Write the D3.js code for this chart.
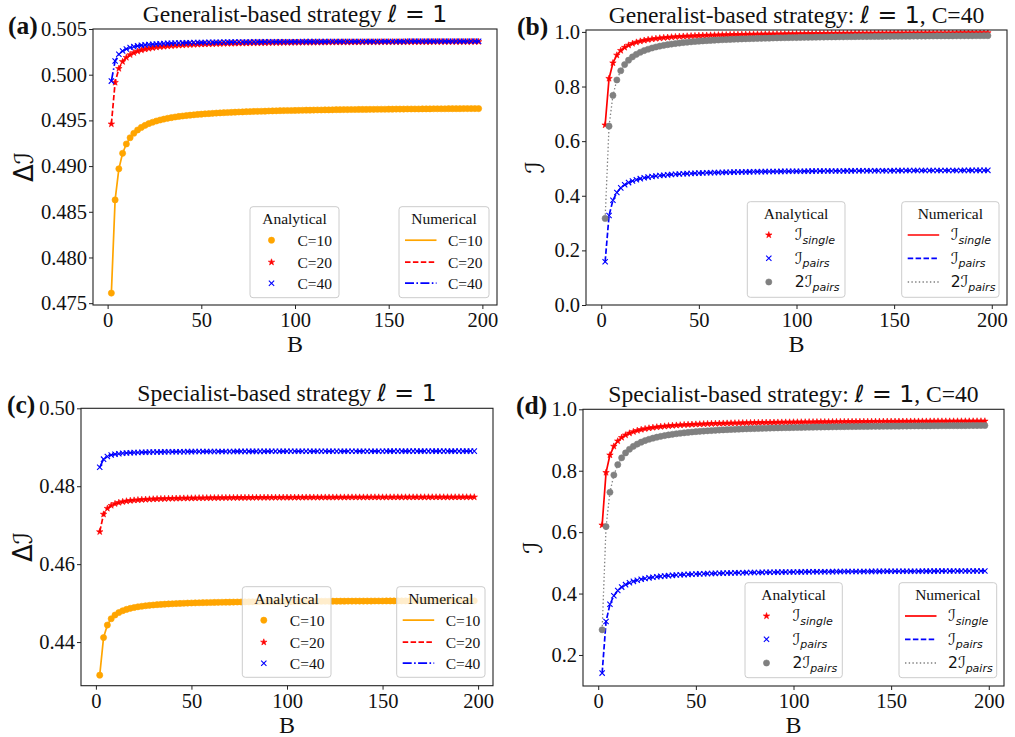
<!DOCTYPE html>
<html>
<head>
<meta charset="utf-8">
<script src="https://cdn.jsdelivr.net/npm/d3@7"></script>
<style>
  body { margin: 0; background: #fff; }
  svg { display: block; }
</style>
</head>
<body>
<svg id="fig" width="1015" height="737"></svg>
<script>
// Block size B: 2, 4, ..., 198
const B = d3.range(2, 200, 2);

// (a) Generalist-based strategy, ΔI for three values of C
const genDeltaC10 = [
  0.4761,0.4863,0.4897,0.4914,0.49242,0.4931,0.49359,0.49395,0.49423,0.49446,
  0.49465,0.4948,0.49493,0.49504,0.49514,0.49523,0.4953,0.49537,0.49543,0.49548,
  0.49553,0.49557,0.49561,0.49565,0.49568,0.49572,0.49574,0.49577,0.4958,0.49582,
  0.49584,0.49586,0.49588,0.4959,0.49592,0.49593,0.49595,0.49596,0.49598,0.49599,
  0.496,0.49601,0.49603,0.49604,0.49605,0.49606,0.49607,0.49608,0.49608,0.49609,
  0.4961,0.49611,0.49612,0.49612,0.49613,0.49614,0.49614,0.49615,0.49615,0.49616,
  0.49617,0.49617,0.49618,0.49618,0.49619,0.49619,0.4962,0.4962,0.4962,0.49621,
  0.49621,0.49622,0.49622,0.49622,0.49623,0.49623,0.49624,0.49624,0.49624,0.49625,
  0.49625,0.49625,0.49625,0.49626,0.49626,0.49626,0.49627,0.49627,0.49627,0.49627,
  0.49628,0.49628,0.49628,0.49628,0.49629,0.49629,0.49629,0.49629,0.49629
];
const genDeltaC20 = [
  0.4946,0.49915,0.50067,0.50143,0.50188,0.50218,0.5024,0.50256,0.50269,0.50279,
  0.50287,0.50294,0.503,0.50305,0.50309,0.50313,0.50316,0.50319,0.50322,0.50324,
  0.50327,0.50329,0.5033,0.50332,0.50334,0.50335,0.50336,0.50337,0.50339,0.5034,
  0.50341,0.50342,0.50342,0.50343,0.50344,0.50345,0.50345,0.50346,0.50347,0.50347,
  0.50348,0.50348,0.50349,0.50349,0.5035,0.5035,0.50351,0.50351,0.50351,0.50352,
  0.50352,0.50353,0.50353,0.50353,0.50353,0.50354,0.50354,0.50354,0.50355,0.50355,
  0.50355,0.50355,0.50356,0.50356,0.50356,0.50356,0.50356,0.50357,0.50357,0.50357,
  0.50357,0.50357,0.50358,0.50358,0.50358,0.50358,0.50358,0.50358,0.50358,0.50359,
  0.50359,0.50359,0.50359,0.50359,0.50359,0.50359,0.5036,0.5036,0.5036,0.5036,
  0.5036,0.5036,0.5036,0.5036,0.5036,0.5036,0.50361,0.50361,0.50361
];
const genDeltaC40 = [
  0.4993,0.5015,0.50223,0.5026,0.50282,0.50297,0.50307,0.50315,0.50321,0.50326,
  0.5033,0.50333,0.50336,0.50339,0.50341,0.50343,0.50344,0.50346,0.50347,0.50348,
  0.50349,0.5035,0.50351,0.50352,0.50352,0.50353,0.50354,0.50354,0.50355,0.50355,
  0.50356,0.50356,0.50357,0.50357,0.50357,0.50358,0.50358,0.50358,0.50359,0.50359,
  0.50359,0.5036,0.5036,0.5036,0.5036,0.5036,0.50361,0.50361,0.50361,0.50361,
  0.50361,0.50362,0.50362,0.50362,0.50362,0.50362,0.50362,0.50362,0.50363,0.50363,
  0.50363,0.50363,0.50363,0.50363,0.50363,0.50363,0.50363,0.50364,0.50364,0.50364,
  0.50364,0.50364,0.50364,0.50364,0.50364,0.50364,0.50364,0.50364,0.50364,0.50365,
  0.50365,0.50365,0.50365,0.50365,0.50365,0.50365,0.50365,0.50365,0.50365,0.50365,
  0.50365,0.50365,0.50365,0.50365,0.50365,0.50365,0.50365,0.50365,0.50365
];

// (b) Generalist-based strategy, C=40: single and pair information
const genSingle = [
  0.659,0.8295,0.8863,0.9148,0.9318,0.9432,0.9513,0.9574,0.9621,0.9659,
  0.969,0.9716,0.9738,0.9756,0.9773,0.9787,0.9799,0.9811,0.9821,0.983,
  0.9838,0.9845,0.9852,0.9858,0.9864,0.9869,0.9874,0.9878,0.9882,0.9886,
  0.989,0.9893,0.9897,0.99,0.9903,0.9905,0.9908,0.991,0.9913,0.9915,
  0.9917,0.9919,0.9921,0.9922,0.9924,0.9926,0.9927,0.9929,0.993,0.9932,
  0.9933,0.9934,0.9936,0.9937,0.9938,0.9939,0.994,0.9941,0.9942,0.9943,
  0.9944,0.9945,0.9946,0.9947,0.9948,0.9948,0.9949,0.995,0.9951,0.9951,
  0.9952,0.9953,0.9953,0.9954,0.9955,0.9955,0.9956,0.9956,0.9957,0.9957,
  0.9958,0.9958,0.9959,0.9959,0.996,0.996,0.9961,0.9961,0.9962,0.9962,
  0.9963,0.9963,0.9963,0.9964,0.9964,0.9964,0.9965,0.9965,0.9966
];
const genPairs = [
  0.1585,0.3275,0.3838,0.412,0.4289,0.4402,0.4482,0.4543,0.4589,0.4627,
  0.4658,0.4683,0.4705,0.4724,0.474,0.4754,0.4766,0.4777,0.4787,0.4796,
  0.4804,0.4811,0.4818,0.4824,0.483,0.4835,0.484,0.4844,0.4848,0.4852,
  0.4856,0.4859,0.4863,0.4866,0.4868,0.4871,0.4874,0.4876,0.4878,0.4881,
  0.4883,0.4885,0.4886,0.4888,0.489,0.4892,0.4893,0.4895,0.4896,0.4897,
  0.4899,0.49,0.4901,0.4902,0.4904,0.4905,0.4906,0.4907,0.4908,0.4909,
  0.491,0.491,0.4911,0.4912,0.4913,0.4914,0.4915,0.4915,0.4916,0.4917,
  0.4917,0.4918,0.4919,0.4919,0.492,0.4921,0.4921,0.4922,0.4922,0.4923,
  0.4923,0.4924,0.4924,0.4925,0.4925,0.4926,0.4926,0.4927,0.4927,0.4927,
  0.4928,0.4928,0.4929,0.4929,0.4929,0.493,0.493,0.4931,0.4931
];

// (c) Specialist-based strategy, ΔI for three values of C
const specDeltaC10 = [
  0.4315,0.44115,0.44437,0.44598,0.44694,0.44758,0.44804,0.44839,0.44866,0.44887,
  0.44905,0.44919,0.44932,0.44942,0.44951,0.44959,0.44967,0.44973,0.44978,0.44983,
  0.44988,0.44992,0.44996,0.45,0.45003,0.45006,0.45009,0.45011,0.45013,0.45016,
  0.45018,0.4502,0.45022,0.45023,0.45025,0.45026,0.45028,0.45029,0.4503,0.45032,
  0.45033,0.45034,0.45035,0.45036,0.45037,0.45038,0.45039,0.4504,0.45041,0.45041,
  0.45042,0.45043,0.45044,0.45044,0.45045,0.45046,0.45046,0.45047,0.45047,0.45048,
  0.45048,0.45049,0.45049,0.4505,0.4505,0.45051,0.45051,0.45052,0.45052,0.45052,
  0.45053,0.45053,0.45054,0.45054,0.45054,0.45055,0.45055,0.45055,0.45056,0.45056,
  0.45056,0.45056,0.45057,0.45057,0.45057,0.45058,0.45058,0.45058,0.45058,0.45059,
  0.45059,0.45059,0.45059,0.4506,0.4506,0.4506,0.4506,0.4506,0.4506
];
const specDeltaC20 = [
  0.4683,0.4728,0.4743,0.47505,0.4755,0.4758,0.47601,0.47618,0.4763,0.4764,
  0.47648,0.47655,0.47661,0.47666,0.4767,0.47674,0.47677,0.4768,0.47683,0.47685,
  0.47687,0.47689,0.47691,0.47693,0.47694,0.47695,0.47697,0.47698,0.47699,0.477,
  0.47701,0.47702,0.47703,0.47704,0.47704,0.47705,0.47706,0.47706,0.47707,0.47708,
  0.47708,0.47709,0.47709,0.4771,0.4771,0.4771,0.47711,0.47711,0.47712,0.47712,
  0.47712,0.47713,0.47713,0.47713,0.47714,0.47714,0.47714,0.47714,0.47715,0.47715,
  0.47715,0.47715,0.47716,0.47716,0.47716,0.47716,0.47717,0.47717,0.47717,0.47717,
  0.47717,0.47717,0.47718,0.47718,0.47718,0.47718,0.47718,0.47718,0.47719,0.47719,
  0.47719,0.47719,0.47719,0.47719,0.47719,0.4772,0.4772,0.4772,0.4772,0.4772,
  0.4772,0.4772,0.4772,0.4772,0.4772,0.47721,0.47721,0.47721,0.47721
];
const specDeltaC40 = [
  0.48485,0.48695,0.48765,0.488,0.48821,0.48835,0.48845,0.48853,0.48858,0.48863,
  0.48867,0.4887,0.48873,0.48875,0.48877,0.48879,0.4888,0.48882,0.48883,0.48884,
  0.48885,0.48886,0.48887,0.48888,0.48888,0.48889,0.48889,0.4889,0.48891,0.48891,
  0.48891,0.48892,0.48892,0.48893,0.48893,0.48893,0.48894,0.48894,0.48894,0.48895,
  0.48895,0.48895,0.48895,0.48895,0.48896,0.48896,0.48896,0.48896,0.48896,0.48897,
  0.48897,0.48897,0.48897,0.48897,0.48897,0.48898,0.48898,0.48898,0.48898,0.48898,
  0.48898,0.48898,0.48898,0.48898,0.48899,0.48899,0.48899,0.48899,0.48899,0.48899,
  0.48899,0.48899,0.48899,0.48899,0.48899,0.489,0.489,0.489,0.489,0.489,
  0.489,0.489,0.489,0.489,0.489,0.489,0.489,0.489,0.489,0.489,
  0.489,0.489,0.489,0.489,0.489,0.489,0.48901,0.48901,0.48901
];

// (d) Specialist-based strategy, C=40: single and pair information
const specSingle = [
  0.623,0.794,0.851,0.8795,0.8966,0.908,0.9161,0.9223,0.927,0.9308,
  0.9339,0.9365,0.9387,0.9406,0.9422,0.9436,0.9449,0.946,0.947,0.9479,
  0.9487,0.9495,0.9501,0.9508,0.9513,0.9518,0.9523,0.9528,0.9532,0.9536,
  0.954,0.9543,0.9546,0.9549,0.9552,0.9555,0.9558,0.956,0.9562,0.9565,
  0.9567,0.9569,0.957,0.9572,0.9574,0.9576,0.9577,0.9579,0.958,0.9582,
  0.9583,0.9584,0.9585,0.9587,0.9588,0.9589,0.959,0.9591,0.9592,0.9593,
  0.9594,0.9595,0.9596,0.9597,0.9597,0.9598,0.9599,0.96,0.96,0.9601,
  0.9602,0.9603,0.9603,0.9604,0.9604,0.9605,0.9606,0.9606,0.9607,0.9607,
  0.9608,0.9608,0.9609,0.9609,0.961,0.961,0.9611,0.9611,0.9612,0.9612,
  0.9612,0.9613,0.9613,0.9614,0.9614,0.9614,0.9615,0.9615,0.9615
];
const specPairs = [
  0.141,0.309,0.365,0.393,0.4098,0.421,0.429,0.435,0.4397,0.4434,
  0.4465,0.449,0.4512,0.453,0.4546,0.456,0.4572,0.4583,0.4593,0.4602,
  0.461,0.4617,0.4624,0.463,0.4636,0.4641,0.4646,0.465,0.4654,0.4658,
  0.4662,0.4665,0.4668,0.4671,0.4674,0.4677,0.4679,0.4682,0.4684,0.4686,
  0.4688,0.469,0.4692,0.4694,0.4695,0.4697,0.4699,0.47,0.4701,0.4703,
  0.4704,0.4705,0.4707,0.4708,0.4709,0.471,0.4711,0.4712,0.4713,0.4714,
  0.4715,0.4716,0.4717,0.4718,0.4718,0.4719,0.472,0.4721,0.4721,0.4722,
  0.4723,0.4723,0.4724,0.4725,0.4725,0.4726,0.4726,0.4727,0.4727,0.4728,
  0.4729,0.4729,0.473,0.473,0.473,0.4731,0.4731,0.4732,0.4732,0.4733,
  0.4733,0.4733,0.4734,0.4734,0.4735,0.4735,0.4735,0.4736,0.4736
];

// Tick values
const xTicks = [0, 50, 100, 150, 200];
const yTicksA = [0.475, 0.480, 0.485, 0.490, 0.495, 0.500, 0.505];
const yTicksB = [0.0, 0.2, 0.4, 0.6, 0.8, 1.0];
const yTicksC = [0.44, 0.46, 0.48, 0.50];
const yTicksD = [0.2, 0.4, 0.6, 0.8, 1.0];

// Legend labels
const cLabels = ["C=10", "C=20", "C=40"];
const infoLabels = [["", "single"], ["", "pairs"], ["2", "pairs"]];

const SERIF = "'Liberation Serif','Times New Roman',serif";
const MATH = "'DejaVu Sans',sans-serif";
const SCRIPT = "'DejaVu Serif','DejaVu Sans',serif";
const CAL_I = "\u2110";

const COL = { orange: "#ffa500", red: "#ff0000", blue: "#0000ff", grey: "#808080" };

// Line and marker styles
const styleC10 = { color: COL.orange, marker: "circle", dash: null, lw: 1.7 };
const styleC20 = { color: COL.red, marker: "star", dash: "5.5,2.4", lw: 1.7 };
const styleC40 = { color: COL.blue, marker: "x", dash: "9,2.4,1.6,2.4", lw: 1.7 };
const styleSingle = { color: COL.red, marker: "star", dash: null, lw: 1.7 };
const stylePairs = { color: COL.blue, marker: "x", dash: "5.5,2.4", lw: 1.7 };
const styleTwice = { color: COL.grey, marker: "circle", dash: "1.4,2.3", lw: 1.3 };

const svg = d3.select("#fig");
svg.append("rect").attr("width", 1015).attr("height", 737).attr("fill", "#fff");

function markerPath(type) {
  if (type === "circle") return d3.symbol(d3.symbolCircle, 30)();
  if (type === "star") return d3.symbol(d3.symbolStar, 13)();
  return d3.symbol(d3.symbolX, 20)();
}

function drawMarker(sel, style) {
  sel.attr("d", markerPath(style.marker));
  if (style.marker === "x") {
    sel.attr("fill", "none").attr("stroke", style.color).attr("stroke-width", 1.1);
  } else {
    sel.attr("fill", style.color).attr("stroke", style.color).attr("stroke-width", 0.6);
  }
}

function applyLine(sel, style) {
  sel.attr("fill", "none")
    .attr("stroke", style.color)
    .attr("stroke-width", style.lw)
    .attr("stroke-dasharray", style.dash)
    .attr("stroke-linejoin", "round");
}

function addRich(textSel, parts) {
  parts.forEach(p => {
    const t = textSel.append("tspan").text(p.text).attr("font-family", p.font || SERIF);
    if (p.italic) t.attr("font-style", "italic");
    if (p.bold) t.attr("font-weight", "bold");
    if (p.size) t.attr("font-size", p.size);
    if (p.dy) t.attr("dy", p.dy);
  });
}

function legend(g, box, title, rows, kind) {
  const lg = g.append("g").attr("transform", `translate(${box.x},${box.y})`);
  lg.append("rect").attr("width", box.w).attr("height", box.h)
    .attr("rx", 3).attr("ry", 3)
    .attr("fill", "#fff").attr("fill-opacity", 0.8)
    .attr("stroke", "#cccccc").attr("stroke-width", 1);
  lg.append("text").attr("x", box.w / 2).attr("y", box.titleY)
    .attr("text-anchor", "middle").attr("font-family", SERIF)
    .attr("font-size", 15.5).attr("fill", "#111").text(title);
  rows.forEach((r, i) => {
    const cy = box.rows[i];
    if (kind === "marker") {
      lg.append("path").attr("transform", `translate(${box.hx},${cy})`).call(drawMarker, r.style);
    } else {
      lg.append("line").attr("x1", box.hx0).attr("x2", box.hx1).attr("y1", cy).attr("y2", cy)
        .call(applyLine, r.style);
    }
    const t = lg.append("text").attr("x", box.tx).attr("y", cy + 5.4)
      .attr("font-size", 15.5).attr("fill", "#111");
    if (typeof r.label === "string") {
      t.attr("font-family", SERIF).text(r.label);
    } else {
      const parts = [];
      if (r.label[0]) parts.push({ text: r.label[0], font: MATH });
      parts.push({ text: CAL_I, font: SCRIPT, size: 16.5 });
      parts.push({ text: r.label[1], font: MATH, italic: true, size: 11, dy: 3.5 });
      addRich(t, parts);
    }
  });
}

function panel(cfg) {
  const g = svg.append("g");
  const x = d3.scaleLinear().domain([-7.8, 207.8]).range([cfg.left, cfg.right]);
  const y = d3.scaleLinear().domain(cfg.yDomain).range([cfg.bottom, cfg.top]);

  const clipId = "clip-" + cfg.id;
  svg.append("clipPath").attr("id", clipId).append("rect")
    .attr("x", cfg.left).attr("y", cfg.top)
    .attr("width", cfg.right - cfg.left).attr("height", cfg.bottom - cfg.top);

  const plot = g.append("g").attr("clip-path", `url(#${clipId})`);
  const line = d3.line().x(d => x(d[0])).y(d => y(d[1]));

  cfg.series.forEach(s => {
    const pts = B.map((b, i) => [b, s.values[i]]);
    plot.append("g").selectAll("path").data(pts).join("path")
      .attr("transform", d => `translate(${x(d[0])},${y(d[1])})`)
      .call(drawMarker, s.style);
    plot.append("path").datum(pts).attr("d", line).call(applyLine, s.style);
  });

  // axes
  const xAxis = g.append("g").attr("transform", `translate(0,${cfg.bottom})`)
    .call(d3.axisBottom(x).tickValues(xTicks).tickSize(4).tickSizeOuter(0).tickPadding(3.5)
      .tickFormat(d3.format("d")));
  const yAxis = g.append("g").attr("transform", `translate(${cfg.left},0)`)
    .call(d3.axisLeft(y).tickValues(cfg.yTicks).tickSize(4).tickSizeOuter(0).tickPadding(2)
      .tickFormat(d3.format(cfg.fmt)));
  [xAxis, yAxis].forEach(a => {
    a.select(".domain").remove();
    a.selectAll(".tick line").attr("stroke", "#222").attr("stroke-width", 1);
    a.selectAll(".tick text").attr("font-family", SERIF).attr("font-size", 20.5).attr("fill", "#111");
  });

  g.append("rect").attr("x", cfg.left).attr("y", cfg.top)
    .attr("width", cfg.right - cfg.left).attr("height", cfg.bottom - cfg.top)
    .attr("fill", "none").attr("stroke", "#222").attr("stroke-width", 1.1);

  // title
  const title = g.append("text").attr("x", (cfg.left + cfg.right) / 2).attr("y", cfg.top - 7)
    .attr("text-anchor", "middle").attr("font-size", 23.6).attr("fill", "#111");
  addRich(title, cfg.title);

  // panel tag
  g.append("text").attr("x", cfg.tagX).attr("y", cfg.top + 5)
    .attr("font-family", SERIF).attr("font-weight", "bold").attr("font-size", 25.5)
    .attr("fill", "#111").text(cfg.tag);

  // axis labels
  g.append("text").attr("x", (cfg.left + cfg.right) / 2).attr("y", cfg.bottom + 47)
    .attr("text-anchor", "middle").attr("font-family", SERIF).attr("font-size", 24)
    .attr("fill", "#111").text("B");
  const yl = g.append("text")
    .attr("transform", `translate(${cfg.ylabX},${(cfg.top + cfg.bottom) / 2}) rotate(-90)`)
    .attr("text-anchor", "middle").attr("font-size", 26).attr("fill", "#111");
  const yparts = [];
  if (cfg.delta) yparts.push({ text: "\u0394", font: MATH });
  yparts.push({ text: CAL_I, font: SCRIPT });
  addRich(yl, yparts);

  // legends
  legend(g, cfg.legA, "Analytical", cfg.series.map((s, i) => ({ style: s.style, label: cfg.labels[i] })), "marker");
  legend(g, cfg.legN, "Numerical", cfg.series.map((s, i) => ({ style: s.style, label: cfg.labels[i] })), "line");
}

function legBox(bx, by, w, h, rows, kind) {
  const base = { x: bx, y: by, w: w, h: h, titleY: 17.5, rows: rows };
  if (kind === "marker") return Object.assign(base, { hx: 21.5, tx: 47.5 });
  return Object.assign(base, { hx0: 6, hx1: 37.5, tx: 49 });
}

const rowsC = [33.5, 55.5, 76.5];
const rowsI = [33.3, 56.6, 80.3];

panel({
  id: "a", left: 93, right: 497, top: 29, bottom: 305,
  yDomain: [0.4748, 0.5050], yTicks: yTicksA, fmt: ".3f",
  tag: "(a)", tagX: 8, ylabX: 33, delta: true,
  title: [{ text: "Generalist-based strategy " }, { text: "\u2113", font: MATH, italic: true }, { text: " = 1", font: MATH }],
  series: [
    { values: genDeltaC10, style: styleC10 },
    { values: genDeltaC20, style: styleC20 },
    { values: genDeltaC40, style: styleC40 }
  ],
  labels: cLabels,
  legA: legBox(250, 206.7, 89, 91, rowsC, "marker"),
  legN: legBox(399, 206.7, 90, 91, rowsC, "line")
});

panel({
  id: "b", left: 586, right: 1007, top: 30, bottom: 305,
  yDomain: [0, 1.007], yTicks: yTicksB, fmt: ".1f",
  tag: "(b)", tagX: 517, ylabX: 544, delta: false,
  title: [{ text: "Generalist-based strategy: " }, { text: "\u2113", font: MATH, italic: true }, { text: " = 1", font: MATH }, { text: ", C=40" }],
  series: [
    { values: genSingle, style: styleSingle },
    { values: genPairs, style: stylePairs },
    { values: genPairs.map(v => 2 * v), style: styleTwice }
  ],
  labels: infoLabels,
  legA: legBox(747.3, 201.7, 97.7, 95.6, rowsI, "marker"),
  legN: legBox(901.7, 201.7, 97.3, 95.6, rowsI, "line")
});

panel({
  id: "c", left: 81, right: 493, top: 408.3, bottom: 685.7,
  yDomain: [0.4288, 0.50], yTicks: yTicksC, fmt: ".2f",
  tag: "(c)", tagX: 7, ylabX: 32, delta: true,
  title: [{ text: "Specialist-based strategy " }, { text: "\u2113", font: MATH, italic: true }, { text: " = 1", font: MATH }],
  series: [
    { values: specDeltaC10, style: styleC10 },
    { values: specDeltaC20, style: styleC20 },
    { values: specDeltaC40, style: styleC40 }
  ],
  labels: cLabels,
  legA: legBox(242.3, 586.7, 88.7, 90.6, rowsC, "marker"),
  legN: legBox(396.7, 586.7, 88.3, 90.6, rowsC, "line")
});

panel({
  id: "d", left: 583, right: 1004, top: 409.3, bottom: 686,
  yDomain: [0.099, 1.0], yTicks: yTicksD, fmt: ".1f",
  tag: "(d)", tagX: 516, ylabX: 541.5, delta: false,
  title: [{ text: "Specialist-based strategy: " }, { text: "\u2113", font: MATH, italic: true }, { text: " = 1", font: MATH }, { text: ", C=40" }],
  series: [
    { values: specSingle, style: styleSingle },
    { values: specPairs, style: stylePairs },
    { values: specPairs.map(v => 2 * v), style: styleTwice }
  ],
  labels: infoLabels,
  legA: legBox(745, 582.7, 97.3, 95, rowsI, "marker"),
  legN: legBox(899, 582.7, 97.7, 95, rowsI, "line")
});
</script>
</body>
</html>
